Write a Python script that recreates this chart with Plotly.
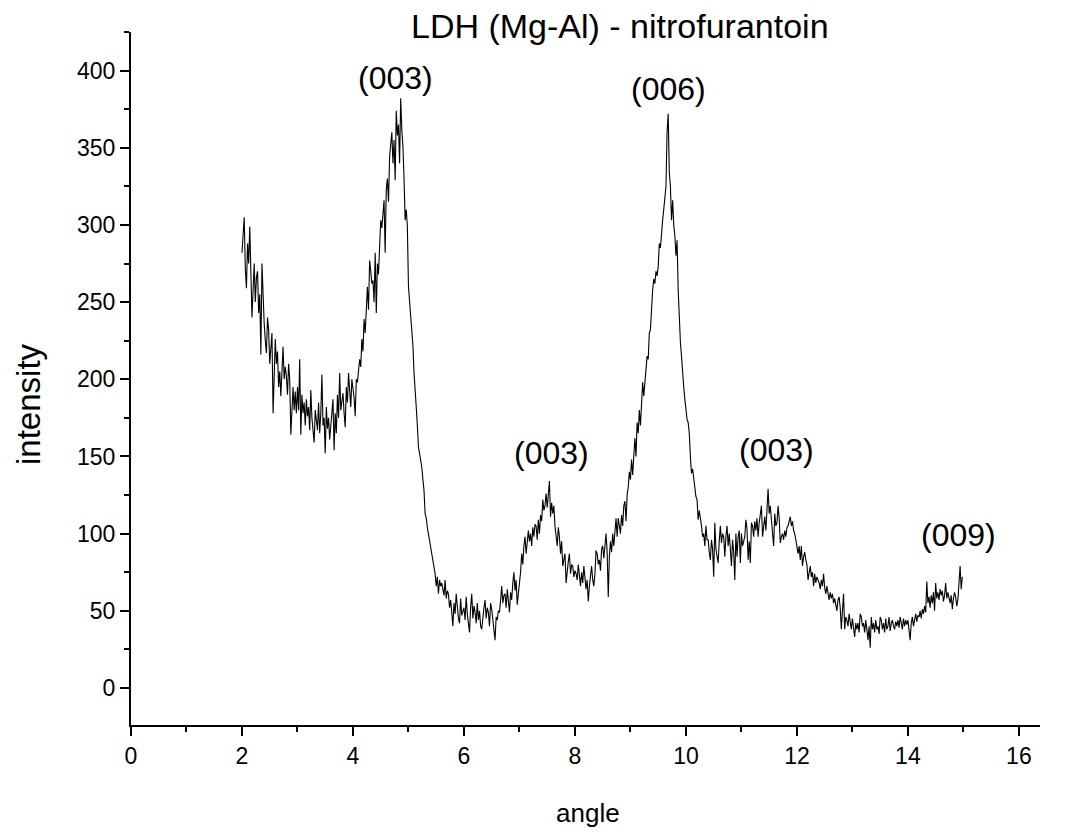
import numpy as np
import plotly.graph_objects as go

# ---- data ----
angle_start = 2.00
angle_step = 0.02

intensity_2_4 = [
    282, 296, 305, 272, 259, 288, 275, 299, 262, 240,
    258, 275, 250, 266, 270, 243, 255, 216, 275, 248,
    236, 225, 217, 240, 232, 210, 221, 230, 178, 205,
    226, 210, 218, 195, 205, 189, 212, 221, 200, 208,
    202, 190, 210, 200, 164, 187, 195, 180, 192, 178,
    195, 180, 213, 164, 190, 178, 185, 170, 187, 176,
    182, 167, 193, 175, 168, 159, 180, 172, 167, 185,
    165, 178, 203, 170, 175, 152, 182, 168, 175, 161,
    172, 180, 187, 154, 178, 165, 190, 175, 204, 180,
    186, 191, 178, 169, 195, 185, 204, 190, 182, 200,
]
intensity_4_6 = [
    195, 188, 176, 200, 198, 204, 213, 208, 226, 218,
    239, 230, 250, 260, 245, 277, 270, 262, 264, 250,
    282, 243, 275, 268, 286, 303, 298, 310, 316, 282,
    323, 330, 315, 344, 350, 360, 340, 355, 329, 374,
    358, 365, 340, 382, 362, 351, 330, 303, 310, 299,
    260, 250, 240, 232, 222, 204, 195, 182, 170, 156,
    152, 148, 143, 135, 128, 113, 110, 104, 100, 94,
    92, 88, 83, 80, 74, 66, 72, 61, 70, 66,
    68, 64, 60, 70, 58, 63, 61, 52, 57, 49,
    40, 55, 48, 61, 50, 45, 42, 58, 47, 50,
]
intensity_6_8 = [
    52, 44, 59, 48, 40, 36, 52, 61, 45, 53,
    49, 42, 55, 44, 50, 40, 38, 47, 52, 57,
    45, 52, 49, 40, 55, 51, 44, 38, 31, 46,
    44, 50, 49, 57, 66, 55, 60, 61, 52, 64,
    58, 49, 62, 57, 68, 75, 63, 70, 54, 60,
    68, 75, 87, 80, 92, 98, 87, 94, 102, 95,
    100, 92, 104, 98, 106, 105, 96, 109, 100, 112,
    108, 122, 115, 118, 126, 117, 124, 134, 111, 120,
    113, 118, 105, 100, 92, 104, 98, 87, 95, 79,
    84, 87, 68, 78, 82, 87, 74, 80, 79, 72,
]
intensity_8_10 = [
    76, 74, 70, 80, 72, 66, 75, 68, 79, 70,
    64, 70, 56, 66, 72, 79, 70, 66, 74, 89,
    87, 80, 83, 76, 90, 92, 84, 95, 100, 88,
    59, 85, 95, 88, 100, 92, 105, 110, 98, 110,
    105, 100, 112, 105, 118, 121, 108, 125, 130, 140,
    135, 148, 138, 155, 162, 150, 172, 165, 180, 170,
    185, 198, 189, 200, 204, 215, 213, 230, 232, 249,
    258, 265, 262, 270, 267, 273, 288, 285, 297, 303,
    310, 319, 325, 360, 372, 334, 325, 303, 316, 300,
    293, 280, 290, 258, 237, 224, 215, 200, 195, 187,
]
intensity_10_12 = [
    178, 174, 172, 165, 150, 139, 142, 135, 128, 124,
    122, 109, 115, 111, 105, 98, 100, 92, 105, 96,
    96, 88, 83, 96, 90, 72, 107, 90, 84, 81,
    95, 105, 94, 100, 98, 85, 98, 105, 92, 100,
    90, 79, 96, 88, 70, 100, 85, 98, 102, 81,
    100, 92, 95, 98, 109, 103, 83, 95, 81, 107,
    105, 98, 108, 102, 110, 98, 107, 112, 118, 98,
    105, 111, 102, 120, 129, 113, 118, 109, 100, 92,
    113, 105, 107, 118, 110, 94, 98, 100, 96, 102,
    98, 104, 105, 109, 111, 105, 108, 102, 100, 96,
]
intensity_12_14 = [
    90, 87, 92, 83, 92, 79, 85, 88, 83, 80,
    70, 76, 79, 72, 75, 66, 74, 68, 72, 70,
    68, 64, 70, 66, 74, 65, 61, 66, 60, 57,
    62, 58, 61, 55, 58, 53, 50, 57, 59, 52,
    38, 50, 61, 38, 46, 44, 40, 48, 42, 38,
    45, 40, 33, 42, 38, 42, 36, 48, 46, 40,
    42, 36, 44, 38, 31, 40, 26, 46, 38, 42,
    36, 44, 38, 40, 35, 46, 44, 38, 42, 36,
    45, 38, 40, 46, 37, 42, 44, 40, 38, 43,
    40, 44, 39, 46, 42, 38, 45, 40, 44, 41,
]
intensity_14_15 = [
    44, 38, 31, 42, 46, 40, 44, 48, 43, 47,
    46, 50, 45, 51, 48, 53, 49, 69, 55, 59,
    52, 60, 55, 62, 50, 68, 58, 62, 57, 64,
    60, 63, 56, 60, 68, 58, 62, 59, 55, 60,
    51, 58, 62, 59, 53, 57, 66, 79, 64, 72,
]

peak_labels = ["(003)", "(006)", "(003)", "(003)", "(009)"]
peak_label_x = [4.76, 9.68, 7.57, 11.63, 14.92]
peak_label_y = [395, 388, 152, 154, 99]

title_text = "LDH (Mg-Al) - nitrofurantoin"
x_title = "angle"
y_title = "intensity"

# ---- build ----
intensity = (intensity_2_4 + intensity_4_6 + intensity_6_8 + intensity_8_10
             + intensity_10_12 + intensity_12_14 + intensity_14_15)
angles = np.round(angle_start + angle_step * np.arange(len(intensity)), 2)

FONT = "Liberation Sans, Arial, sans-serif"

fig = go.Figure()
fig.add_trace(go.Scatter(x=angles, y=intensity, mode="lines",
                         line=dict(color="black", width=1.1), showlegend=False))

axis_common = dict(
    showline=True, linecolor="black", linewidth=2,
    ticks="outside", ticklen=9, tickwidth=2, tickcolor="black",
    showgrid=False, zeroline=False,
    tickfont=dict(family=FONT, size=23, color="black"),
)
fig.update_xaxes(range=[0, 16.38], tick0=0, dtick=2,
                 minor=dict(ticks="outside", ticklen=5, tickwidth=2,
                            tickcolor="black", dtick=1, showgrid=False),
                 **axis_common)
fig.update_yaxes(range=[-24, 425], tick0=0, dtick=50,
                 minor=dict(ticks="outside", ticklen=5, tickwidth=2,
                            tickcolor="black", dtick=25, showgrid=False),
                 **axis_common)

for t, x, y in zip(peak_labels, peak_label_x, peak_label_y):
    fig.add_annotation(x=x, y=y, text=t, showarrow=False, xref="x", yref="y",
                       xanchor="center", yanchor="middle",
                       font=dict(family=FONT, size=32, color="black"))

fig.add_annotation(x=(620 - 131) / 909, y=(725 - 26) / 693, xref="paper", yref="paper",
                   text=title_text, showarrow=False, xanchor="center", yanchor="middle",
                   font=dict(family=FONT, size=34, color="black"))
fig.add_annotation(x=(588 - 131) / 909, y=(725 - 813) / 693, xref="paper", yref="paper",
                   text=x_title, showarrow=False, xanchor="center", yanchor="middle",
                   font=dict(family=FONT, size=26, color="black"))
fig.add_annotation(x=(28 - 131) / 909, y=(725 - 404) / 693, xref="paper", yref="paper",
                   text=y_title, showarrow=False, xanchor="center", yanchor="middle",
                   textangle=-90, font=dict(family=FONT, size=33, color="black"))

fig.update_layout(
    width=1068, height=832,
    margin=dict(l=131, r=28, t=32, b=107),
    paper_bgcolor="white", plot_bgcolor="white",
    showlegend=False,
)

fig.write_html("out.html")
